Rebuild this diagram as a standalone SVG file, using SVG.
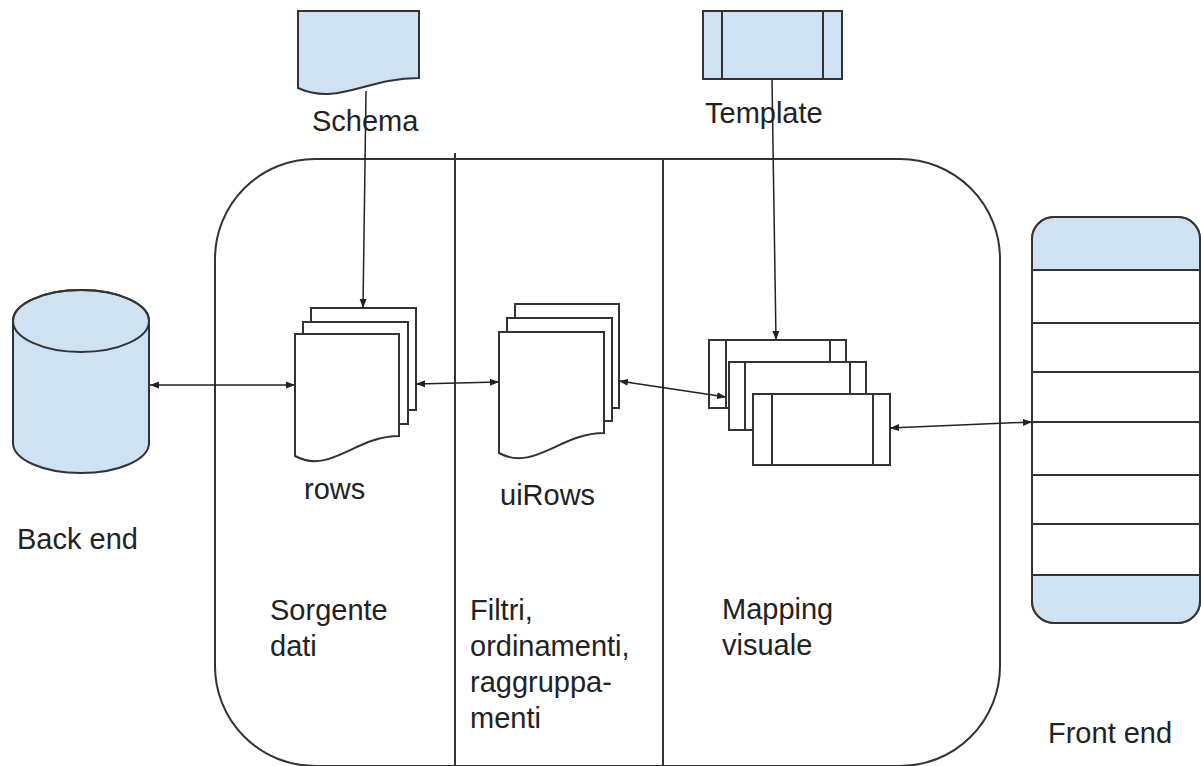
<svg xmlns="http://www.w3.org/2000/svg" width="1201" height="766" viewBox="0 0 1201 766">
<style>
.s{stroke:#333;stroke-width:2;fill:#fff}
.b{fill:#cfe2f3}
.ln{stroke:#333;stroke-width:2;fill:none}
.c{stroke:#222;stroke-width:1.5;fill:none}
text{font-family:"Liberation Sans",Arial,sans-serif;font-size:29px;fill:#222}
</style>
<defs>
<marker id="a" markerUnits="userSpaceOnUse" markerWidth="10" markerHeight="8" refX="9" refY="4" orient="auto-start-reverse">
<path d="M0,0.5 L9,4 L0,7.5 z" fill="#222"/>
</marker>
</defs>
<g id="container">
<rect class="ln" x="215" y="159" width="785" height="607" rx="100"/>
<line class="ln" x1="455" y1="153" x2="455" y2="766"/>
<line class="ln" x1="663" y1="159" x2="663" y2="766"/>
<text x="270" y="620">Sorgente</text>
<text x="270" y="656">dati</text>
<text x="470" y="620">Filtri,</text>
<text x="470" y="656">ordinamenti,</text>
<text x="470" y="692">raggruppa-</text>
<text x="470" y="728">menti</text>
<text x="722" y="619">Mapping</text>
<text x="722" y="655">visuale</text>
</g>
<g id="backend">
<path class="s b" d="M13,321 V443 A68,30 0 0 0 149,443 V321 A68,31 0 0 0 13,321 Z" style="fill:#cfe2f3"/>
<ellipse class="ln" cx="81" cy="321" rx="68" ry="31"/>
<text x="17" y="549">Back end</text>
</g>
<g id="schema">
<path class="s" style="fill:#cfe2f3" d="M298,11 H419 V78 C365,78 338,106 298,88 Z"/>
<text x="312" y="131">Schema</text>
</g>
<g id="template">
<rect class="s" style="fill:#cfe2f3" x="703" y="11" width="139" height="68"/>
<line class="ln" x1="722" y1="11" x2="722" y2="79"/>
<line class="ln" x1="823" y1="11" x2="823" y2="79"/>
<text x="705" y="123">Template</text>
</g>
<g id="rows">
<rect class="s" x="311" y="308" width="105" height="102"/>
<rect class="s" x="303" y="322" width="105" height="102"/>
<path class="s" d="M295,334 H399 V436 C355,436 330,475 295,456 Z"/>
<text x="304" y="499">rows</text>
</g>
<g id="uirows">
<rect class="s" x="515" y="304" width="104" height="104"/>
<rect class="s" x="507" y="318" width="105" height="103"/>
<path class="s" d="M499,332 H604 V433 C560,433 534,472 499,453 Z"/>
<text x="500" y="505">uiRows</text>
</g>
<g id="mapping">
<rect class="s" x="709" y="340" width="137" height="68"/>
<line class="ln" x1="726" y1="340" x2="726" y2="408"/>
<line class="ln" x1="830" y1="340" x2="830" y2="408"/>
<rect class="s" x="729" y="362" width="137" height="68"/>
<line class="ln" x1="745" y1="362" x2="745" y2="430"/>
<line class="ln" x1="850" y1="362" x2="850" y2="430"/>
<rect class="s" x="753" y="394" width="137" height="71"/>
<line class="ln" x1="772" y1="394" x2="772" y2="465"/>
<line class="ln" x1="873" y1="394" x2="873" y2="465"/>
</g>
<g id="frontend">
<rect class="s" x="1032" y="217" width="168" height="406" rx="22"/>
<path class="b" d="M1032,270 V239 A22,22 0 0 1 1054,217 H1178 A22,22 0 0 1 1200,239 V270 Z"/>
<path class="b" d="M1032,575 V601 A22,22 0 0 0 1054,623 H1178 A22,22 0 0 0 1200,601 V575 Z"/>
<rect class="ln" x="1032" y="217" width="168" height="406" rx="22"/>
<line class="ln" x1="1032" y1="270" x2="1200" y2="270"/>
<line class="ln" x1="1032" y1="323" x2="1200" y2="323"/>
<line class="ln" x1="1032" y1="372" x2="1200" y2="372"/>
<line class="ln" x1="1032" y1="422" x2="1200" y2="422"/>
<line class="ln" x1="1032" y1="475" x2="1200" y2="475"/>
<line class="ln" x1="1032" y1="524" x2="1200" y2="524"/>
<line class="ln" x1="1032" y1="575" x2="1200" y2="575"/>
<text x="1048" y="743">Front end</text>
</g>
<g id="connectors">
<line class="c" x1="150" y1="385" x2="295" y2="385" marker-start="url(#a)" marker-end="url(#a)"/>
<line class="c" x1="416" y1="384" x2="499" y2="382" marker-start="url(#a)" marker-end="url(#a)"/>
<line class="c" x1="619" y1="381" x2="726" y2="397" marker-start="url(#a)" marker-end="url(#a)"/>
<line class="c" x1="890" y1="428" x2="1032" y2="422" marker-start="url(#a)" marker-end="url(#a)"/>
<line class="c" x1="366" y1="91" x2="363" y2="308" marker-end="url(#a)"/>
<line class="c" x1="772" y1="80" x2="776" y2="340" marker-end="url(#a)"/>
</g>
</svg>
